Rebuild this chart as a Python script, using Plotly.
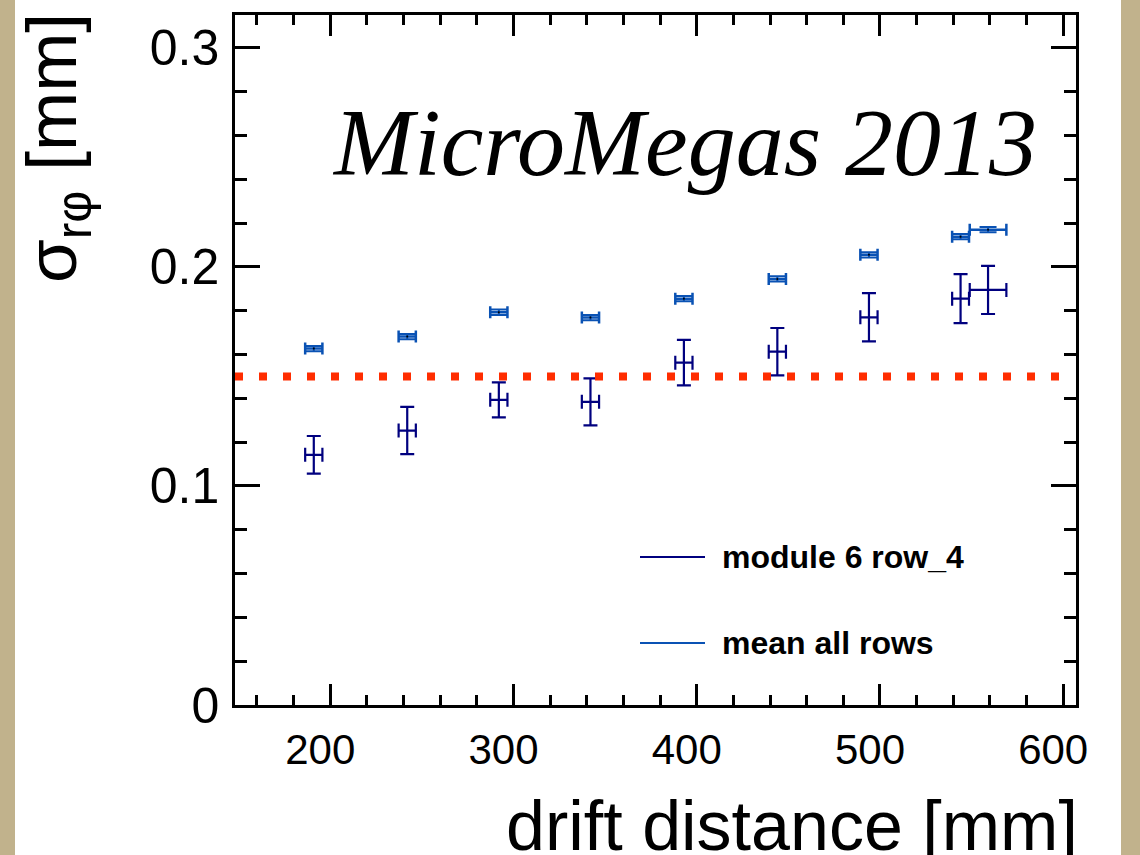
import plotly.graph_objects as go

# ---- data ----
drift = [191, 242, 292, 342, 393, 444, 494, 544, 559]
drift_err = [4.7, 4.7, 4.7, 4.7, 4.7, 4.7, 4.7, 4.6, 10.0]

row4_sigma = [0.1142, 0.1253, 0.1393, 0.1384, 0.1563, 0.1613, 0.1770, 0.1855, 0.1895]
row4_err = [0.0086, 0.0108, 0.0080, 0.0107, 0.0104, 0.0108, 0.0110, 0.0112, 0.0110]

mean_sigma = [0.1627, 0.1682, 0.1793, 0.1769, 0.1855, 0.1945, 0.2055, 0.2138, 0.2170]
mean_err = [0.0012, 0.0012, 0.0012, 0.0012, 0.0012, 0.0012, 0.0012, 0.0012, 0.0012]

reference_sigma = 0.15
x_range = [148, 607]
y_range = [0, 0.315]
y_tickvals = [0, 0.1, 0.2, 0.3]
y_ticktext = ["0", "0.1", "0.2", "0.3"]
x_tickvals = [200, 300, 400, 500, 600]
x_ticktext = ["200", "300", "400", "500", "600"]

NAVY = "#00007f"
MEANBLUE = "#0a52b4"
RED = "#ff2d00"
BEIGE = "#c1b28c"

fig = go.Figure()

fig.add_trace(go.Scatter(
    x=drift, y=mean_sigma, mode="markers",
    marker=dict(size=2, color="black"),
    error_x=dict(type="data", array=drift_err, color=MEANBLUE, thickness=2.5, width=6),
    error_y=dict(type="data", array=mean_err, color=MEANBLUE, thickness=2, width=8.5),
    showlegend=False, name="mean all rows"))

fig.add_trace(go.Scatter(
    x=drift, y=row4_sigma, mode="markers",
    marker=dict(size=1, color=NAVY),
    error_x=dict(type="data", array=drift_err, color=NAVY, thickness=2.2, width=7),
    error_y=dict(type="data", array=row4_err, color=NAVY, thickness=2.2, width=7),
    showlegend=False, name="module 6 row_4"))

# reference line (dotted red)
fig.add_shape(type="line", xref="x", yref="y", x0=148, x1=600,
              y0=reference_sigma, y1=reference_sigma,
              line=dict(color=RED, width=8, dash="8px,16px"))

# white slide area
fig.add_shape(type="rect", xref="paper", yref="paper",
              x0=(15 - 235) / 841, x1=(1121 - 235) / 841,
              y0=-160 / 690, y1=1 + 25 / 690,
              fillcolor="white", line=dict(width=0), layer="below")

axis_common = dict(showgrid=False, zeroline=False, showline=True, linecolor="black",
                   linewidth=2.5, mirror="allticks", ticks="inside", tickcolor="black",
                   tickwidth=2.5)

fig.update_xaxes(range=x_range, tickvals=x_tickvals, ticktext=x_ticktext, ticklen=21,
                 tickfont=dict(family="Liberation Sans", size=42, color="black"),
                 ticklabelstandoff=6, ticklabelshift=-10,
                 minor=dict(dtick=20, tick0=0, ticks="inside", ticklen=10, tickwidth=2.5,
                            tickcolor="black", showgrid=False),
                 **axis_common)
fig.update_yaxes(range=y_range, tickvals=y_tickvals, ticktext=y_ticktext, ticklen=25,
                 tickfont=dict(family="Liberation Sans", size=50, color="black"),
                 ticklabelstandoff=3,
                 minor=dict(dtick=0.02, tick0=0, ticks="inside", ticklen=12, tickwidth=2.5,
                            tickcolor="black", showgrid=False),
                 **axis_common)

# axis titles
fig.add_annotation(text="drift distance [mm]", xref="paper", yref="paper",
                   x=(1080 - 235) / 841, y=-(867 - 705) / 690, xanchor="right", yanchor="bottom",
                   showarrow=False, font=dict(family="Liberation Sans", size=70, color="black"))
fig.add_annotation(text="σ<sub>rφ</sub> [mm]", xref="paper", yref="paper",
                   x=(10 - 235) / 841, y=1.0 + 4 / 690, xanchor="left", yanchor="top", textangle=-90,
                   showarrow=False, font=dict(family="Liberation Sans", size=71, color="black"))

# big label
fig.add_annotation(text="<i>MicroMegas 2013</i>", xref="paper", yref="paper",
                   x=(330 - 235) / 841, y=(705 - 142) / 690, xanchor="left", yanchor="middle",
                   showarrow=False, font=dict(family="Liberation Serif", size=96, color="black"))

# legend
legend_items = [("module 6 row_4", NAVY, 557), ("mean all rows", MEANBLUE, 643)]
for label, col, ypix in legend_items:
    yp = (705 - ypix) / 690
    fig.add_shape(type="line", xref="paper", yref="paper",
                  x0=(640 - 235) / 841, x1=(705 - 235) / 841, y0=yp, y1=yp,
                  line=dict(color=col, width=2.2))
    fig.add_annotation(text="<b>%s</b>" % label, xref="paper", yref="paper",
                       x=(720 - 235) / 841, y=yp, xanchor="left", yanchor="middle",
                       showarrow=False, font=dict(family="Liberation Sans", size=32, color="black"))

fig.update_layout(width=1140, height=855,
                  margin=dict(l=235, r=64, t=15, b=150),
                  paper_bgcolor=BEIGE, plot_bgcolor="white")

fig.write_html("out.html",
               config={"displayModeBar": False},
               post_script="document.body.style.margin='0px';"
                           "document.body.style.background='%s';" % BEIGE)
